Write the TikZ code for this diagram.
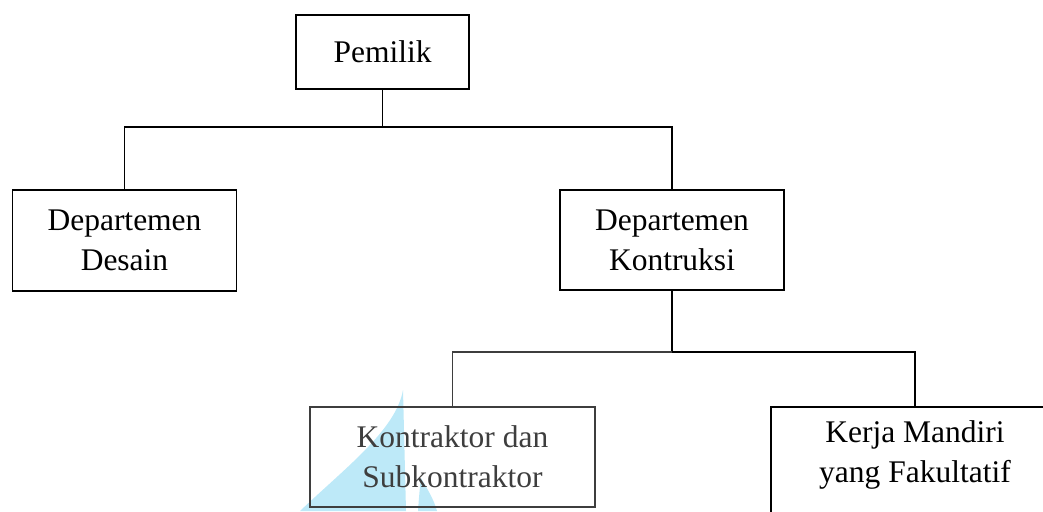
\documentclass[tikz,border=0pt]{standalone}
\usepackage{fontspec}
\setmainfont{Liberation Serif}
\definecolor{logoblue}{HTML}{BDE9F8}
\definecolor{softink}{HTML}{3E3E3E}
\begin{document}
\begin{tikzpicture}[x=1pt,y=-1pt,
  orgbox/.style={draw, line width=1.3pt, rectangle, inner sep=0pt, align=center,
                 font=\fontsize{31.5}{40}\selectfont},
  orgtext/.style={inner sep=0pt, align=center, font=\fontsize{31.5}{40}\selectfont},
  link/.style={line width=1.3pt}]
\useasboundingbox (0,0) rectangle (1043,511);
\clip (0,0) rectangle (1043,511);

% faint logo shapes behind the lower boxes
\fill[logoblue] (300,511) .. controls (345,468) and (396,430) .. (403,390)
                -- (406,511) -- cycle;
\fill[logoblue] (418,511) .. controls (419,496) and (420,486) .. (421,478)
                .. controls (428,490) and (434,500) .. (437,511) -- cycle;

% boxes
\node[orgbox, minimum width=173, minimum height=74] (pemilik) at (382.5,52) {Pemilik};
\node[orgbox, minimum width=224, minimum height=101] (desain) at (124.5,240.5) {Departemen\\Desain};
\node[orgbox, minimum width=224, minimum height=100] (konstruksi) at (672,240) {Departemen\\Kontruksi};
\node[orgbox, draw=softink, text=softink, minimum width=285, minimum height=100] (kontraktor) at (452.5,457) {Kontraktor dan\\Subkontraktor};
\node[orgbox, minimum width=288, minimum height=130] (mandiri) at (915,472) {};
\node[orgtext] (mandiritext) at (915,455) {Kerja Mandiri\\yang Fakultatif};

% connectors
\coordinate (topbus) at (0,127);
\coordinate (lowbus) at (0,352);
\draw[link] (pemilik.south) -- (pemilik.south |- topbus);
\draw[link] (desain.north) -- (desain.north |- topbus) -- (konstruksi.north |- topbus) -- (konstruksi.north);
\draw[link] (konstruksi.south) -- (konstruksi.south |- lowbus);
\draw[link, draw=softink] (kontraktor.north) -- (kontraktor.north |- lowbus) -- (konstruksi.south |- lowbus);
\draw[link] (konstruksi.south |- lowbus) -- (mandiri.north |- lowbus) -- (mandiri.north);
\end{tikzpicture}
\end{document}
